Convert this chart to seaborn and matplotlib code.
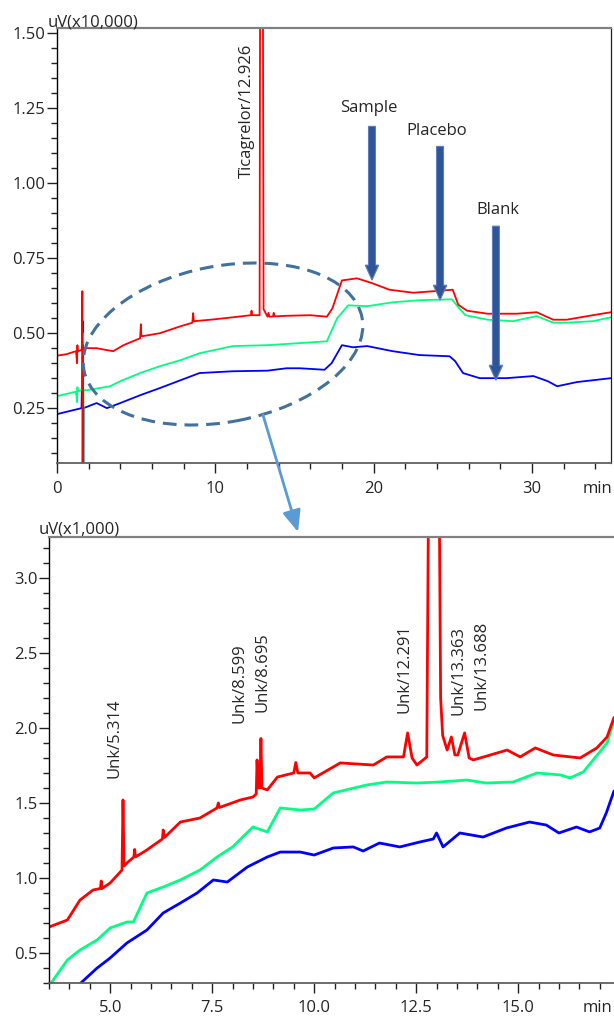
import matplotlib
matplotlib.use('Agg')
import numpy as np
import pandas as pd
import matplotlib.pyplot as plt
import seaborn as sns
from matplotlib.patches import Ellipse, FancyArrowPatch
from matplotlib.ticker import MultipleLocator, FixedLocator

# ---------------- data: overview chromatogram (uV x10,000) ----------------
top_sample_t = [0, 0.6, 1.2, 1.27, 1.29, 1.31, 1.35, 1.58, 1.6, 1.62, 1.64, 1.66, 1.75, 2.5, 3.0,
                3.55, 4.2, 5.25, 5.3, 5.33, 5.4, 6.5, 7.8, 8.55, 8.6, 8.65, 9.9, 11.1, 12.25,
                12.29, 12.33, 12.8, 12.83, 12.93, 13.01, 13.05, 13.3, 13.36, 13.42, 13.65,
                13.69, 13.75, 14.5, 16.0, 17.05, 17.4, 18.0, 18.95, 19.9, 21.0, 22.5, 23.8,
                25.0, 25.35, 25.9, 27.2, 29.05, 30.3, 31.35, 32.2, 33.85, 35.0]
top_sample_v = [0.425, 0.43, 0.44, 0.40, 0.46, 0.44, 0.44, 0.445, 0.64, 0.0, 0.46, 0.44, 0.45,
                0.45, 0.445, 0.44, 0.46, 0.483, 0.53, 0.49, 0.49, 0.50, 0.523, 0.535, 0.567,
                0.54, 0.546, 0.553, 0.56, 0.575, 0.56, 0.56, 1.6, 6.0, 1.6, 0.58, 0.555, 0.568,
                0.555, 0.556, 0.568, 0.556, 0.558, 0.56, 0.555, 0.583, 0.676, 0.683, 0.667,
                0.645, 0.635, 0.64, 0.645, 0.595, 0.575, 0.565, 0.565, 0.57, 0.545, 0.545,
                0.56, 0.57]

top_placebo_t = [0, 1.2, 1.27, 1.29, 1.31, 1.35, 1.6, 1.64, 1.66, 1.68, 1.9, 3.35, 4.0, 5.25,
                 6.5, 7.8, 9.0, 11.1, 13.3, 15.35, 17.05, 17.7, 18.4, 19.6, 21.2, 22.9, 24.95,
                 25.3, 25.8, 27.2, 28.8, 30.3, 31.35, 32.2, 33.85, 35.0]
top_placebo_v = [0.29, 0.305, 0.27, 0.32, 0.307, 0.307, 0.31, 0.5, 0.0, 0.31, 0.31, 0.323,
                 0.34, 0.367, 0.39, 0.41, 0.433, 0.457, 0.46, 0.467, 0.473, 0.55, 0.593, 0.59,
                 0.603, 0.61, 0.613, 0.59, 0.56, 0.545, 0.54, 0.557, 0.535, 0.535, 0.54, 0.553]

top_blank_t = [0, 1.55, 1.64, 1.66, 1.68, 2.5, 3.15, 4.0, 5.25, 6.5, 7.8, 9.0, 11.1, 13.3,
               14.5, 15.35, 16.9, 17.35, 18.0, 18.7, 19.6, 21.2, 22.9, 24.8, 25.15, 25.65,
               26.7, 28.4, 30.1, 31.0, 31.6, 32.85, 35.0]
top_blank_v = [0.23, 0.25, 0.54, 0.0, 0.25, 0.267, 0.25, 0.267, 0.293, 0.317, 0.343, 0.367,
               0.373, 0.375, 0.383, 0.383, 0.378, 0.40, 0.46, 0.453, 0.457, 0.44, 0.427,
               0.423, 0.407, 0.367, 0.35, 0.35, 0.357, 0.34, 0.323, 0.337, 0.35]

# ---------------- data: zoomed chromatogram (uV x1,000) ----------------
bot_sample_t = [3.5, 3.95, 4.26, 4.58, 4.76, 4.78, 4.80, 5.0, 5.29, 5.314, 5.34, 5.41, 5.58,
                5.6, 5.62, 5.9, 6.28, 6.3, 6.33, 6.72, 7.2, 7.62, 7.65, 7.68, 8.19, 8.5, 8.58,
                8.6, 8.63, 8.67, 8.695, 8.72, 8.85, 9.1, 9.5, 9.55, 9.6, 9.9, 10.0, 10.64,
                11.45, 11.78, 12.19, 12.291, 12.4, 12.52, 12.76, 12.80, 12.93, 13.07, 13.10,
                13.15, 13.26, 13.363, 13.45, 13.52, 13.688, 13.8, 13.9, 14.07, 14.73, 15.05,
                15.42, 15.86, 16.52, 16.93, 17.18, 17.35]
bot_sample_v = [0.673, 0.72, 0.853, 0.92, 0.93, 0.98, 0.93, 0.967, 1.053, 1.52, 1.08, 1.10,
                1.14, 1.19, 1.14, 1.187, 1.26, 1.32, 1.27, 1.373, 1.40, 1.467, 1.50, 1.47,
                1.52, 1.54, 1.56, 1.787, 1.6, 1.6, 1.93, 1.6, 1.587, 1.673, 1.70, 1.77, 1.70,
                1.70, 1.667, 1.767, 1.753, 1.807, 1.807, 1.967, 1.80, 1.753, 1.807, 3.4, 40.0,
                3.4, 2.2, 1.95, 1.853, 1.94, 1.82, 1.82, 1.967, 1.80, 1.787, 1.80, 1.853,
                1.807, 1.867, 1.82, 1.80, 1.867, 1.94, 2.07]

bot_placebo_t = [3.5, 3.95, 4.26, 4.68, 5.0, 5.41, 5.57, 5.9, 6.3, 6.72, 7.2, 7.62, 8.0, 8.5,
                 8.85, 9.17, 9.66, 10.0, 10.47, 11.29, 11.78, 12.51, 13.08, 13.74, 14.22,
                 14.88, 15.46, 16.03, 16.27, 16.6, 16.84, 17.18, 17.35]
bot_placebo_v = [0.28, 0.453, 0.52, 0.587, 0.667, 0.707, 0.707, 0.90, 0.94, 0.987, 1.053,
                 1.14, 1.207, 1.34, 1.307, 1.467, 1.453, 1.46, 1.567, 1.62, 1.64, 1.633,
                 1.64, 1.653, 1.633, 1.64, 1.70, 1.687, 1.667, 1.707, 1.787, 1.90, 2.05]

bot_blank_t = [4.2, 4.68, 5.0, 5.41, 5.9, 6.3, 6.72, 7.13, 7.53, 7.87, 8.36, 8.85, 9.17, 9.66,
               10.0, 10.47, 10.96, 11.2, 11.6, 12.1, 12.59, 12.92, 13.0, 13.16, 13.57, 14.14,
               14.71, 15.28, 15.69, 16.0, 16.43, 16.75, 17.0, 17.16, 17.35]
bot_blank_v = [0.28, 0.40, 0.467, 0.567, 0.653, 0.767, 0.833, 0.90, 0.987, 0.973, 1.073,
               1.14, 1.173, 1.173, 1.153, 1.20, 1.207, 1.18, 1.233, 1.207, 1.24, 1.26, 1.30,
               1.207, 1.30, 1.273, 1.333, 1.373, 1.353, 1.30, 1.34, 1.307, 1.333, 1.433, 1.58]

trace_names = ['Blank', 'Placebo', 'Sample']
trace_colors = ['#0000ff', '#00ff80', '#ff0000']

top_xticks = [0, 10, 20, 30]
top_yticks = [0.25, 0.50, 0.75, 1.00, 1.25, 1.50]
top_yticklabels = ['0.25', '0.50', '0.75', '1.00', '1.25', '1.50']
bot_xticks = [5.0, 7.5, 10.0, 12.5, 15.0]
bot_xticklabels = ['5.0', '7.5', '10.0', '12.5', '15.0']
bot_yticks = [0.5, 1.0, 1.5, 2.0, 2.5, 3.0]
bot_yticklabels = ['0.5', '1.0', '1.5', '2.0', '2.5', '3.0']

# arrows in overview: label, x, arrow top, arrow tip, label position
marker_names = ['Sample', 'Placebo', 'Blank']
marker_x = [19.9, 24.2, 27.73]
marker_top = [1.19, 1.123, 0.857]
marker_tip = [0.677, 0.61, 0.343]
marker_label_x = [19.71, 24.0, 27.86]
marker_label_y = [1.25, 1.173, 0.91]

peak_labels = ['Unk/5.314', 'Unk/8.599', 'Unk/8.695', 'Unk/12.291', 'Unk/13.363', 'Unk/13.688']
peak_label_x = [5.1, 8.16, 8.74, 12.21, 13.53, 14.09]
peak_label_y = [1.667, 2.033, 2.107, 2.10, 2.087, 2.12]

# ---------------- build ----------------
def frame(t, v, name):
    return pd.DataFrame({'time': t, 'signal': v, 'trace': name})

top_df = pd.concat([frame(top_blank_t, top_blank_v, 'Blank'),
                    frame(top_placebo_t, top_placebo_v, 'Placebo'),
                    frame(top_sample_t, top_sample_v, 'Sample')], ignore_index=True)
bot_df = pd.concat([frame(bot_blank_t, bot_blank_v, 'Blank'),
                    frame(bot_placebo_t, bot_placebo_v, 'Placebo'),
                    frame(bot_sample_t, bot_sample_v, 'Sample')], ignore_index=True)
palette = dict(zip(trace_names, trace_colors))

sns.set_style('ticks')
plt.rcParams['font.family'] = ['Open Sans', 'DejaVu Sans']
plt.rcParams['font.size'] = 12
plt.rcParams['xtick.labelsize'] = 12
plt.rcParams['ytick.labelsize'] = 12

W, H = 614, 1017
fig = plt.figure(figsize=(W / 100, H / 100), dpi=100)
ax1 = fig.add_axes([57 / W, (H - 463) / H, (611 - 57) / W, (463 - 28) / H])
ax2 = fig.add_axes([49 / W, (H - 983) / H, (614 - 49) / W, (983 - 537) / H])

sns.lineplot(data=top_df, x='time', y='signal', hue='trace', hue_order=trace_names,
             palette=palette, estimator=None, sort=False, legend=False, ax=ax1, lw=1.3)
sns.lineplot(data=bot_df, x='time', y='signal', hue='trace', hue_order=trace_names,
             palette=palette, estimator=None, sort=False, legend=False, ax=ax2, lw=2.0)

ax1.set_xlim(0, 35)
ax1.set_ylim(0.067, 1.518)
ax1.xaxis.set_major_locator(FixedLocator(top_xticks))
ax1.xaxis.set_minor_locator(MultipleLocator(2))
ax1.yaxis.set_major_locator(FixedLocator(top_yticks))
ax1.yaxis.set_minor_locator(MultipleLocator(0.05))
ax1.set_xticklabels([str(v) for v in top_xticks])
ax1.set_yticklabels(top_yticklabels)

ax2.set_xlim(3.5, 17.35)
ax2.set_ylim(0.3, 3.273)
ax2.xaxis.set_major_locator(FixedLocator(bot_xticks))
ax2.xaxis.set_minor_locator(MultipleLocator(0.5))
ax2.yaxis.set_major_locator(FixedLocator(bot_yticks))
ax2.yaxis.set_minor_locator(MultipleLocator(0.1))
ax2.set_xticklabels(bot_xticklabels)
ax2.set_yticklabels(bot_yticklabels)

for ax in (ax1, ax2):
    ax.set_xlabel('')
    ax.set_ylabel('')
    ax.tick_params(which='major', direction='out', length=7, width=1.0, color='#222222',
                   bottom=True, left=True, top=False, right=False)
    ax.tick_params(which='minor', direction='out', length=4, width=1.0, color='#222222',
                   bottom=True, left=True, top=False, right=False)
    ax.spines['left'].set_color('black')
    ax.spines['left'].set_linewidth(1.0)
    ax.spines['top'].set_visible(True)
    ax.spines['top'].set_color('#808080')
    ax.spines['top'].set_linewidth(1.6)
    ax.spines['bottom'].set_color('#606060')
    ax.spines['bottom'].set_linewidth(1.3)

ax1.spines['right'].set_visible(True)
ax1.spines['right'].set_color('#202020')
ax1.spines['right'].set_linewidth(0.9)
ax2.spines['right'].set_visible(False)

ax1.tick_params(axis='x', which='major', pad=6)
ax1.tick_params(axis='y', which='major', pad=1.5)
ax2.tick_params(axis='x', which='major', pad=5)
ax2.tick_params(axis='y', which='major', pad=1)

# "min" unit labels
ax1.annotate('min', xy=(1, 0), xycoords='axes fraction', xytext=(0.7, -13),
             textcoords='offset points', ha='right', va='top', fontsize=12)
ax2.annotate('min', xy=(1, 0), xycoords='axes fraction', xytext=(-1.5, -12),
             textcoords='offset points', ha='right', va='top', fontsize=12)

# y unit labels
fig.text(48 / W, (H - 26.5) / H, 'uV(x10,000)', ha='left', va='baseline', fontsize=12)
fig.text(39 / W, (H - 533) / H, 'uV(x1,000)', ha='left', va='baseline', fontsize=12)

# overview annotations
ax1.text(12.0, 1.018, 'Ticagrelor/12.926', rotation=90, ha='center', va='bottom', fontsize=12)
for name, x, y0, y1, lx, ly in zip(marker_names, marker_x, marker_top, marker_tip,
                                   marker_label_x, marker_label_y):
    ax1.arrow(x, y0, 0, y1 - y0, width=0.44, head_width=0.85, head_length=0.05,
              length_includes_head=True, fc='#2f5597', ec='#5a7fc4', lw=0.8, zorder=5)
    ax1.text(lx, ly, name, ha='center', va='center', fontsize=12)

for lab, x, y in zip(peak_labels, peak_label_x, peak_label_y):
    ax2.text(x, y, lab, rotation=90, ha='center', va='bottom', fontsize=12)

# dashed ellipse and connector arrow (figure inches)
ell = Ellipse((2.23, (H - 344) / 100), 2.83, 1.56, angle=10.7, fill=False,
              edgecolor='#41719c', lw=2.2, linestyle=(0, (4.5, 2.6)),
              transform=fig.dpi_scale_trans, zorder=10)
fig.add_artist(ell)
conn = FancyArrowPatch(posA=(2.63, (H - 415) / 100), posB=(2.98, (H - 532) / 100),
                       arrowstyle='-|>,head_length=13,head_width=5.5', mutation_scale=1,
                       color='#5b9bd5', lw=2.0, shrinkA=0, shrinkB=0,
                       transform=fig.dpi_scale_trans, zorder=10)
fig.add_artist(conn)

fig.savefig('out.png', dpi=100)
